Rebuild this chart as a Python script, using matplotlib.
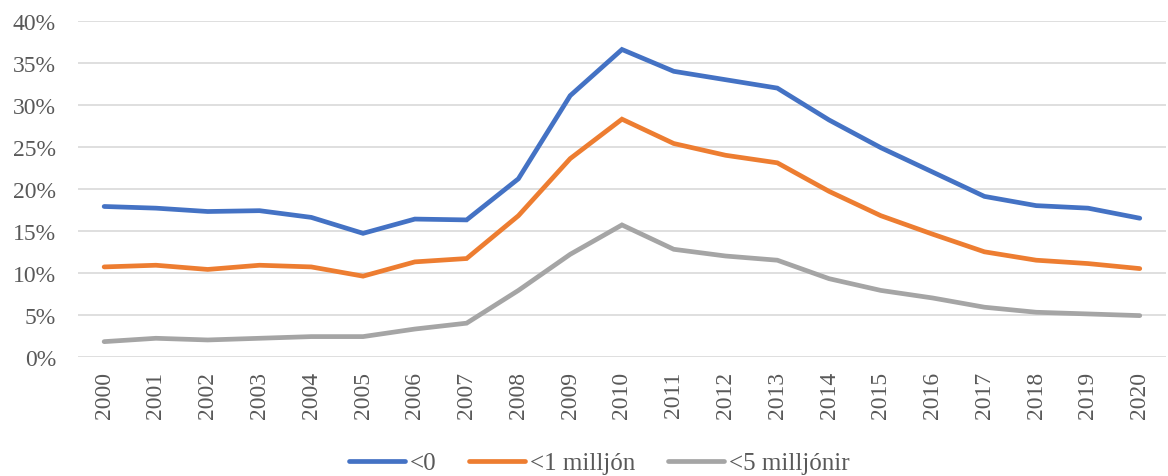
import numpy as np
import matplotlib
matplotlib.use("Agg")
import matplotlib.pyplot as plt
from matplotlib.ticker import PercentFormatter

# ---- data ----
years = [str(y) for y in range(2000, 2021)]
neg = [17.9, 17.7, 17.3, 17.4, 16.6, 14.7, 16.4, 16.3, 21.2, 31.1, 36.6,
       34.0, 33.0, 32.0, 28.2, 24.9, 22.0, 19.1, 18.0, 17.7, 16.5]
under_1m = [10.7, 10.9, 10.4, 10.9, 10.7, 9.6, 11.3, 11.7, 16.8, 23.6, 28.3,
            25.4, 24.0, 23.1, 19.7, 16.8, 14.6, 12.5, 11.5, 11.1, 10.5]
under_5m = [1.8, 2.2, 2.0, 2.2, 2.4, 2.4, 3.3, 4.0, 7.9, 12.2, 15.7,
            12.8, 12.0, 11.5, 9.3, 7.9, 7.0, 5.9, 5.3, 5.1, 4.9]
labels = ["<0", "<1 milljón", "<5 milljónir"]
colors = ["#4472C4", "#ED7D31", "#A5A5A5"]

plt.rcParams['font.family'] = ['Liberation Serif', 'DejaVu Serif']
txt = '#595959'
fs = 17

fig = plt.figure(figsize=(11.68, 4.77), dpi=100)
ax = fig.add_axes([0.067, 0.25, 0.931, 0.704])

x = np.arange(len(years))
for vals, lab, col in zip([neg, under_1m, under_5m], labels, colors):
    ax.plot(x, vals, color=col, lw=3.4, label=lab, solid_capstyle='round',
            solid_joinstyle='miter')

ax.set_xlim(-0.5, len(years) - 0.5)
ax.set_ylim(0, 40)
ax.set_yticks(np.arange(0, 41, 5))
ax.yaxis.set_major_formatter(PercentFormatter(decimals=0))
ax.set_xticks(x)
ax.set_xticklabels(years, rotation=90)
ax.tick_params(axis='both', length=0, labelsize=fs, colors=txt)
ax.tick_params(axis='x', pad=10)
ax.tick_params(axis='y', pad=16)

ax.grid(axis='y', color='#D9D9D9', lw=1.2)
ax.set_axisbelow(True)
for s in ax.spines.values():
    s.set_visible(False)

leg = fig.legend(loc='center', bbox_to_anchor=(0.513, 0.027), ncol=3,
                 frameon=False, fontsize=18, handlelength=2.25,
                 columnspacing=1.3, handletextpad=0.2)
for t in leg.get_texts():
    t.set_color(txt)

fig.savefig('out.png', dpi=100)
